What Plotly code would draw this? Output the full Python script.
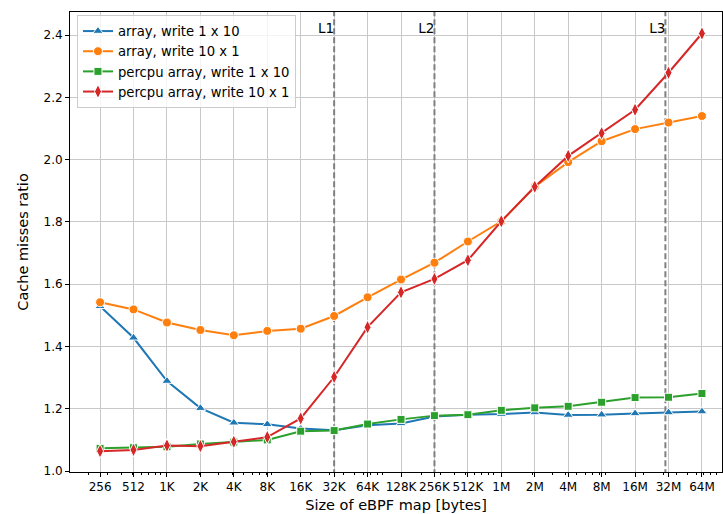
import math
import plotly.graph_objects as go

# ---- data ----
sizes = [2**n for n in range(8, 27)]
size_labels = ["256", "512", "1K", "2K", "4K", "8K", "16K", "32K", "64K", "128K",
               "256K", "512K", "1M", "2M", "4M", "8M", "16M", "32M", "64M"]

array_1x10 = [1.529, 1.428, 1.289, 1.202, 1.155, 1.150, 1.137, 1.131, 1.147, 1.153,
              1.175, 1.181, 1.183, 1.188, 1.180, 1.181, 1.185, 1.188, 1.191]
array_10x1 = [1.542, 1.519, 1.477, 1.453, 1.436, 1.450, 1.457, 1.498, 1.558, 1.615,
              1.669, 1.737, 1.802, 1.913, 1.992, 2.059, 2.098, 2.119, 2.140]
percpu_1x10 = [1.073, 1.075, 1.078, 1.087, 1.093, 1.100, 1.128, 1.130, 1.151, 1.166,
               1.178, 1.181, 1.195, 1.203, 1.208, 1.221, 1.236, 1.237, 1.249]
percpu_10x1 = [1.064, 1.068, 1.082, 1.080, 1.094, 1.109, 1.169, 1.302, 1.462, 1.574,
               1.617, 1.677, 1.802, 1.913, 2.012, 2.085, 2.160, 2.279, 2.405]

cache_names = ["L1", "L2", "L3"]
cache_sizes = [32 * 1024, 256 * 1024, 30 * 1024 * 1024]

y_ticks = [1.0, 1.2, 1.4, 1.6, 1.8, 2.0, 2.2, 2.4]

# ---- figure ----
FONT = "DejaVu Sans"
fig = go.Figure()

# cache-size vertical lines
for c in cache_sizes:
    fig.add_trace(go.Scatter(
        x=[c, c], y=[0.9, 2.6], mode="lines",
        line=dict(color="#808080", width=2, dash="6px,3px"),
        showlegend=False, hoverinfo="skip"))

series = [
    ("array, write 1 x 10", array_1x10, "#1f77b4", "triangle-up", 9),
    ("array, write 10 x 1", array_10x1, "#ff7f0e", "circle", 9),
    ("percpu array, write 1 x 10", percpu_1x10, "#2ca02c", "square", 8),
    ("percpu array, write 10 x 1", percpu_10x1, "#d62728", "diamond-tall", 10),
]
for name, vals, color, sym, msize in series:
    fig.add_trace(go.Scatter(
        x=sizes, y=vals, name=name, mode="lines+markers",
        line=dict(color=color, width=2),
        marker=dict(symbol=sym, size=msize, color=color,
                    line=dict(color="white", width=1)),
    ))

# cache labels
fig.add_trace(go.Scatter(
    x=cache_sizes, y=[2.416] * len(cache_sizes), text=cache_names,
    mode="text", textposition="middle left",
    textfont=dict(family=FONT, size=13.5, color="black"),
    showlegend=False, hoverinfo="skip"))

minor_vals = [m * 10**k for k in range(2, 9) for m in range(2, 10)]

fig.update_layout(
    width=723, height=514,
    margin=dict(l=70, r=1, t=12, b=42),
    paper_bgcolor="white", plot_bgcolor="white",
    font=dict(family=FONT, size=12, color="black"),
    legend=dict(
        x=0.0107, y=0.9935, xanchor="left", yanchor="top",
        bgcolor="rgba(255,255,255,0.8)", bordercolor="#cccccc", borderwidth=1,
        font=dict(family=FONT, size=13.2), tracegroupgap=0,
    ),
    xaxis=dict(
        type="log", automargin=False,
        range=[7.1 * math.log10(2), 26.6 * math.log10(2)],
        tickmode="array", tickvals=sizes, ticktext=size_labels, tickangle=0,
        ticks="outside", ticklen=4, tickcolor="black", tickwidth=1,
        showgrid=True, gridcolor="#c8c8c8", gridwidth=1,
        showline=True, linecolor="black", linewidth=1, mirror=True,
        zeroline=False,
        tickfont=dict(family=FONT, size=12),
        title=dict(text="Size of eBPF map [bytes]", font=dict(family=FONT, size=14.5), standoff=6),
        minor=dict(tickmode="array", tickvals=minor_vals, ticks="outside",
                   ticklen=2, tickcolor="black", tickwidth=1, showgrid=False),
    ),
    yaxis=dict(
        automargin=False,
        range=[0.997, 2.474],
        tickmode="array", tickvals=y_ticks, ticktext=[f"{v:.1f}" for v in y_ticks],
        ticks="outside", ticklen=4, tickcolor="black", tickwidth=1,
        showgrid=True, gridcolor="#c8c8c8", gridwidth=1,
        showline=True, linecolor="black", linewidth=1, mirror=True,
        zeroline=False,
        tickfont=dict(family=FONT, size=12),
        title=dict(text="Cache misses ratio", font=dict(family=FONT, size=14.5), standoff=11),
    ),
)

fig.write_html("out.html", config={"displayModeBar": False},
               post_script="document.body.style.margin='0';")
